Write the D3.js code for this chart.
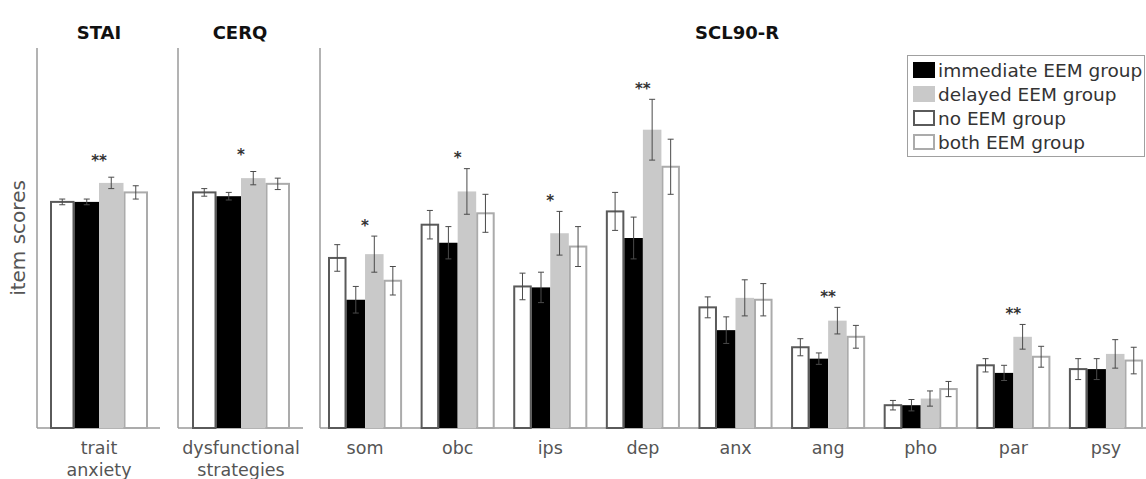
<!DOCTYPE html>
<html>
<head>
<meta charset="utf-8">
<script src="https://cdn.jsdelivr.net/npm/d3@7"></script>
<style>
  html, body { margin: 0; padding: 0; background: #fff; }
  svg { display: block; font-family: "DejaVu Sans", sans-serif; }
</style>
</head>
<body>
<svg id="chart" width="1146" height="479"></svg>
<script>
// ---------------- DATA ----------------
const panelTitles = ["STAI", "CERQ", "SCL90-R"];
const staiCategories = ["trait anxiety"];
const cerqCategories = ["dysfunctional strategies"];
const sclCategories = ["som", "obc", "ips", "dep", "anx", "ang", "pho", "par", "psy"];
const seriesNames = ["no EEM group", "immediate EEM group", "delayed EEM group", "both EEM group"];
const legendOrder = ["immediate EEM group", "delayed EEM group", "no EEM group", "both EEM group"];

// values across: trait anxiety, dysfunctional strategies, som, obc, ips, dep, anx, ang, pho, par, psy
const noEEM      = [2.38, 2.48, 1.79, 2.14, 1.49, 2.28, 1.27, 0.85, 0.24, 0.66, 0.62];
const immediate  = [2.38, 2.44, 1.35, 1.95, 1.48, 2.00, 1.03, 0.73, 0.24, 0.58, 0.62];
const delayed    = [2.58, 2.63, 1.83, 2.49, 2.05, 3.14, 1.37, 1.13, 0.31, 0.96, 0.78];
const both       = [2.48, 2.57, 1.55, 2.26, 1.91, 2.75, 1.35, 0.96, 0.41, 0.75, 0.71];

const noEEMErr     = [0.03, 0.04, 0.14, 0.15, 0.14, 0.20, 0.11, 0.09, 0.05, 0.07, 0.11];
const immediateErr = [0.03, 0.04, 0.14, 0.17, 0.16, 0.22, 0.14, 0.06, 0.06, 0.08, 0.11];
const delayedErr   = [0.06, 0.07, 0.19, 0.24, 0.23, 0.32, 0.19, 0.14, 0.08, 0.13, 0.15];
const bothErr      = [0.07, 0.06, 0.15, 0.20, 0.21, 0.29, 0.17, 0.12, 0.08, 0.11, 0.14];

const significance = ["**", "*", "*", "*", "*", "**", "", "**", "", "**", ""];

const yDomain = [0, 4];

// ---------------- BUILD ----------------
const allCategories = staiCategories.concat(cerqCategories, sclCategories);
const seriesValues = [noEEM, immediate, delayed, both];
const seriesErrors = [noEEMErr, immediateErr, delayedErr, bothErr];
const rows = allCategories.map((c, i) => ({
  category: c,
  sig: significance[i],
  bars: seriesNames.map((s, k) => ({ series: s, value: seriesValues[k][i], err: seriesErrors[k][i] }))
}));

const style = {
  "no EEM group":        { fill: "#ffffff", stroke: "#5a5a5a", sw: 2 },
  "immediate EEM group": { fill: "#000000", stroke: "none", sw: 0 },
  "delayed EEM group":   { fill: "#c9c9c9", stroke: "none", sw: 0 },
  "both EEM group":      { fill: "#ffffff", stroke: "#ababab", sw: 2 }
};

const svg = d3.select("#chart");
const y = d3.scaleLinear().domain(yDomain).range([428, 48]);

const panels = [
  { title: panelTitles[0], cats: staiCategories, axisX: 37, right: 160, range: [50, 148], pad: 0, starGap: 20, titleX: 99 },
  { title: panelTitles[1], cats: cerqCategories, axisX: 178, right: 303, range: [192, 290], pad: 0, starGap: 20, titleX: 240 },
  { title: panelTitles[2], cats: sclCategories, axisX: 320, right: 1146, range: [328, 1143], pad: 0.2, starGap: 14, titleX: 737 }
];

const axisColor = "#9a9a9a";

panels.forEach(p => {
  const g = svg.append("g");
  const x = d3.scaleBand().domain(p.cats).range(p.range).paddingInner(p.pad).paddingOuter(0);
  const xs = d3.scaleBand().domain(seriesNames).range([0, x.bandwidth()]).padding(0);

  // axes
  g.append("line").attr("x1", p.axisX).attr("x2", p.axisX)
    .attr("y1", y.range()[1]).attr("y2", y.range()[0])
    .attr("stroke", axisColor).attr("stroke-width", 1.5);
  g.append("line").attr("x1", p.axisX).attr("x2", p.right)
    .attr("y1", y(0)).attr("y2", y(0))
    .attr("stroke", axisColor).attr("stroke-width", 1.5);

  // title
  g.append("text").attr("x", p.titleX).attr("y", 39)
    .attr("text-anchor", "middle").attr("font-weight", "bold")
    .attr("font-size", 18).attr("fill", "#111").text(p.title);

  const data = rows.filter(r => p.cats.includes(r.category));

  const grp = g.selectAll("g.grp").data(data).join("g")
    .attr("transform", d => `translate(${x(d.category)},0)`);

  // bars
  grp.selectAll("rect").data(d => d.bars).join("rect")
    .attr("x", d => xs(d.series) + style[d.series].sw / 2)
    .attr("width", d => xs.bandwidth() - style[d.series].sw)
    .attr("y", d => y(d.value))
    .attr("height", d => y(0) - y(d.value))
    .attr("fill", d => style[d.series].fill)
    .attr("stroke", d => style[d.series].stroke)
    .attr("stroke-width", d => style[d.series].sw);

  // error bars
  const eb = grp.selectAll("g.eb").data(d => d.bars).join("g")
    .attr("transform", d => `translate(${xs(d.series) + xs.bandwidth() / 2},0)`);
  eb.append("line").attr("x1", 0).attr("x2", 0)
    .attr("y1", d => y(d.value + d.err)).attr("y2", d => y(d.value - d.err))
    .attr("stroke", "#4a4a4a").attr("stroke-width", 1);
  [1, -1].forEach(sgn => {
    eb.append("line").attr("x1", -3).attr("x2", 3)
      .attr("y1", d => y(d.value + sgn * d.err)).attr("y2", d => y(d.value + sgn * d.err))
      .attr("stroke", "#4a4a4a").attr("stroke-width", 1);
  });

  // significance stars
  const starFs = 15;
  grp.filter(d => d.sig).append("text")
    .attr("x", x.bandwidth() / 2)
    .attr("y", d => y(d3.max(d.bars, b => b.value + b.err)) - p.starGap + 0.58 * starFs)
    .attr("text-anchor", "middle").attr("font-size", starFs).attr("font-weight", "bold")
    .attr("fill", "#333")
    .text(d => d.sig);

  // category labels (wrap at spaces)
  grp.each(function(d) {
    const words = d.category.split(" ");
    const t = d3.select(this).append("text")
      .attr("x", x.bandwidth() / 2).attr("y", 454)
      .attr("text-anchor", "middle").attr("font-size", 17.5).attr("fill", "#555");
    words.forEach((w, i) => {
      t.append("tspan").attr("x", x.bandwidth() / 2).attr("dy", i === 0 ? 0 : 22).text(w);
    });
  });
});

// y label
svg.append("text")
  .attr("transform", "translate(25,238) rotate(-90)")
  .attr("text-anchor", "middle").attr("font-size", 20).attr("fill", "#555")
  .text("item scores");

// legend
const lg = svg.append("g");
lg.append("rect").attr("x", 907.5).attr("y", 55.5).attr("width", 237).attr("height", 101)
  .attr("fill", "#fff").attr("stroke", "#a0a0a0").attr("stroke-width", 1);
const li = lg.selectAll("g.li").data(legendOrder).join("g")
  .attr("transform", (d, i) => `translate(913,${62 + i * 24})`);
li.append("rect")
  .attr("x", d => style[d].sw / 2).attr("y", d => style[d].sw / 2)
  .attr("width", d => 22 - style[d].sw).attr("height", d => 16 - style[d].sw)
  .attr("fill", d => style[d].fill).attr("stroke", d => style[d].stroke)
  .attr("stroke-width", d => style[d].sw);
li.append("text").attr("x", 25).attr("y", 8).attr("dominant-baseline", "central")
  .attr("font-size", 18.5).attr("fill", "#333").text(d => d);
</script>
</body>
</html>
